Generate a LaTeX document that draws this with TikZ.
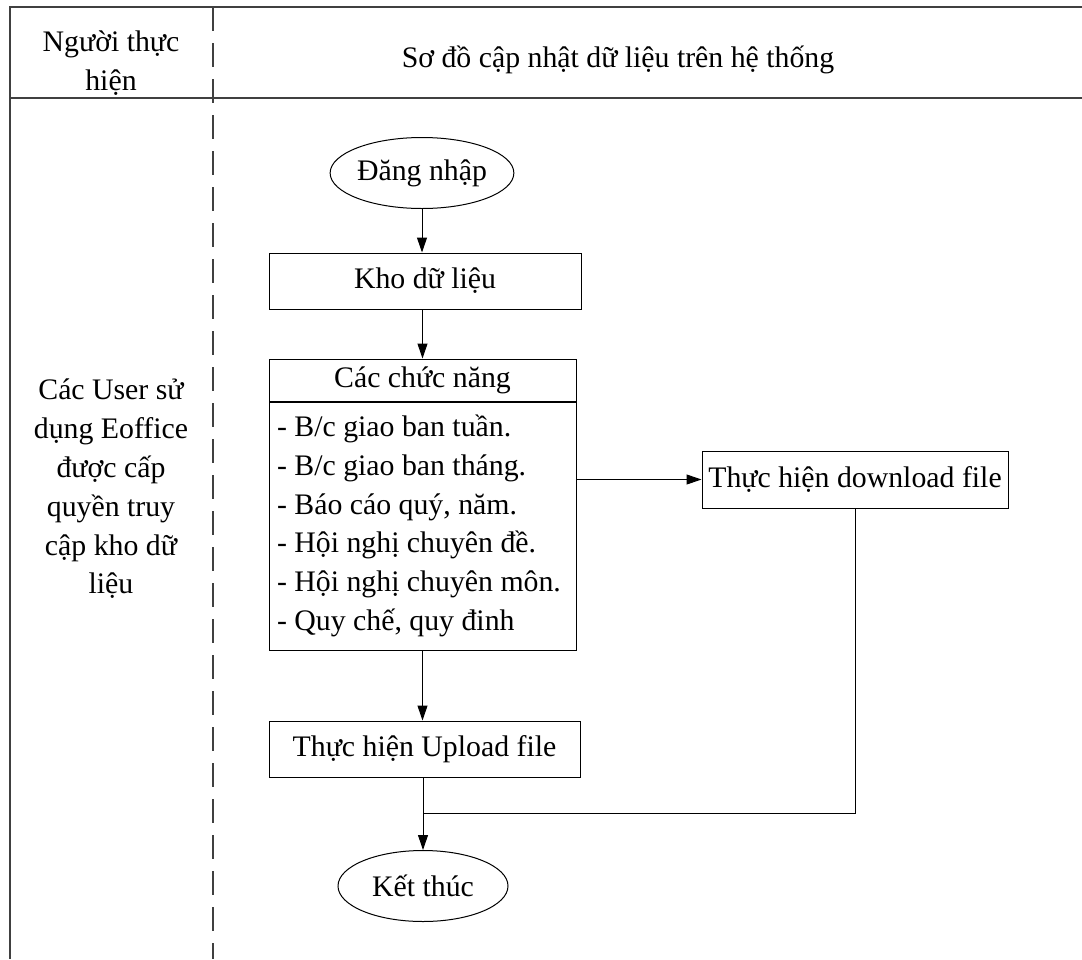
\documentclass[tikz,border=0pt]{standalone}
\usepackage{fontspec}
\setmainfont{Liberation Serif}
\usetikzlibrary{shapes,arrows.meta,positioning,calc}

\begin{document}
\begin{tikzpicture}[x=1pt, y=-1pt,
    txt/.style={font=\fontsize{29.8}{38.8}\selectfont},
    box/.style={txt, draw, line width=1pt, inner sep=0pt, align=center, minimum width=#1},
    box/.default=312pt,
    term/.style={txt, draw, ellipse, line width=1pt, inner sep=0pt, minimum width=170pt, minimum height=71pt},
    frame/.style={line width=1.2pt, black!75},
    lane/.style={frame, dash pattern=on 24pt off 12pt},
    arrow/.style={line width=1pt, -{Triangle[length=15pt, width=10pt]}},
    wire/.style={line width=1pt}
]
\useasboundingbox (0,0) rectangle (1082,959);

% Frame of the table
\draw[frame] (1082,7) -- (10,7) -- (10,959);
\draw[frame] (10,98) -- (1082,98);
\draw[lane] (213,7) -- (213,959);

% Header
\node[txt, align=center] (nguoi) at (111,63) {Người thực\\hiện};
\node[txt] (tieude) at (618,60) {Sơ đồ cập nhật dữ liệu trên hệ thống};

% Who does it
\node[txt, align=center] (user) at (111,489) {Các User sử\\dụng Eoffice\\được cấp\\quyền truy\\cập kho dữ\\liệu};

% Flow
\node[term] (dangnhap) at (422,173) {Đăng nhập};
\node[box, minimum height=56pt] (kho) at (425,281) {Kho dữ liệu};
\node[box=307pt, minimum height=42pt] (chucnang) at (422.5,380) {Các chức năng};
\node[box=307pt, minimum height=248pt, anchor=north] (dsnang) at (chucnang.south) {};
\node[txt, align=left, anchor=west] (dsmuc) at ($(dsnang.west)+(5,0)$)
    {- B/c giao ban tuần.\\- B/c giao ban tháng.\\- Báo cáo quý, năm.\\- Hội nghị chuyên đề.\\- Hội nghị chuyên môn.\\- Quy chế, quy đinh};
\node[box=306pt, minimum height=57pt] (taixuong) at (855,479.5) {Thực hiện download file};
\node[box=311pt, minimum height=56pt] (upload) at (424.5,749) {Thực hiện Upload file};
\node[term] (ketthuc) at (423,886) {Kết thúc};
\coordinate (gop) at (423,813);

% Connect with arrows
\draw[arrow] (dangnhap) -- (dangnhap |- kho.north);
\draw[arrow] (kho.south -| chucnang) -- (chucnang.north);
\draw[arrow] (dsnang.east |- taixuong.west) -- (taixuong.west);
\draw[arrow] (dsnang.south) -- (dsnang.south |- upload.north);
\draw[arrow] (upload.south -| ketthuc) -- (ketthuc.north);
\draw[wire] (taixuong.south) |- (gop);

\end{tikzpicture}
\end{document}
